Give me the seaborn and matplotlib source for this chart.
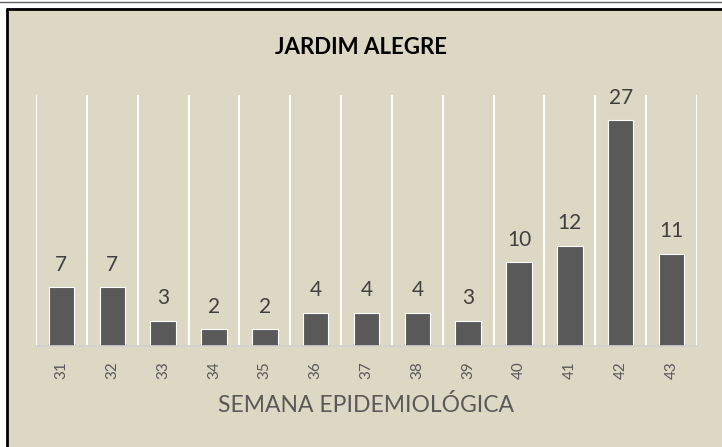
import matplotlib
matplotlib.use("Agg")
import matplotlib.pyplot as plt
import seaborn as sns
import pandas as pd
from matplotlib.lines import Line2D

semanas = ["31", "32", "33", "34", "35", "36", "37", "38", "39", "40", "41", "42", "43"]
casos = [7, 7, 3, 2, 2, 4, 4, 4, 3, 10, 12, 27, 11]
titulo = "JARDIM ALEGRE"
xlabel = "SEMANA EPIDEMIOLÓGICA"

bg = "#DDD8C3"
sns.set_theme(style="white")
plt.rcParams["font.family"] = ["Lato", "DejaVu Sans"]

df = pd.DataFrame({"semana": semanas, "casos": casos})

fig = plt.figure(figsize=(7.22, 4.47), dpi=100, facecolor=bg)
ax = fig.add_axes([36/722, 1-346/447, (697-36)/722, (346-95)/447])
ax.set_facecolor(bg)

sns.barplot(data=df, x="semana", y="casos", color="#595959", width=0.5,
            edgecolor="white", linewidth=0.8, saturation=1, ax=ax)

ax.set_xlim(-0.5, len(semanas)-0.5)
ax.set_ylim(0, 30)
ax.set_xticks([i + 0.5 for i in range(-1, len(semanas))], minor=True)
ax.grid(True, which="minor", axis="x", color="white", linewidth=1.5)
ax.grid(False, which="major")
ax.tick_params(axis="x", which="both", length=0)
ax.set_yticks([])
for s in ["top", "right", "left"]:
    ax.spines[s].set_visible(False)
ax.spines["bottom"].set_color("#D0D0D0")
ax.spines["bottom"].set_linewidth(1.2)

ax.set_xticks(range(len(semanas)))
ax.set_xticklabels(semanas, rotation=90, fontsize=11, color="#595959")
ax.tick_params(axis="x", pad=11)
ax.set_xlabel(xlabel, fontsize=16.5, color="#595959", labelpad=11)
ax.set_ylabel("")

for p, v in zip(ax.patches, casos):
    ax.annotate(str(v), (p.get_x() + p.get_width()/2, p.get_height()),
                xytext=(0, 9), textcoords="offset points",
                ha="center", va="bottom", fontsize=15, color="#404040")

fig.text(0.5, 1-48/447, titulo, ha="center", va="center", fontsize=16,
         fontweight="bold", color="black")

fig.add_artist(Line2D([7/722, 7/722], [0, 1-8.5/447], transform=fig.transFigure,
                      color="black", linewidth=2))
fig.add_artist(Line2D([7/722, 1], [1-8.5/447, 1-8.5/447], transform=fig.transFigure,
                      color="black", linewidth=2))
fig.patches.append(plt.Rectangle((0, 1-8/447), 1, 8/447, transform=fig.transFigure,
                                 facecolor="white", edgecolor="none", zorder=-1))
fig.patches.append(plt.Rectangle((0, 0), 7/722, 1, transform=fig.transFigure,
                                 facecolor="white", edgecolor="none", zorder=-1))
fig.add_artist(Line2D([0, 1], [1-1.5/447, 1-1.5/447], transform=fig.transFigure,
                      color="#606060", linewidth=1))

fig.savefig("out.png", dpi=100, facecolor=bg)
